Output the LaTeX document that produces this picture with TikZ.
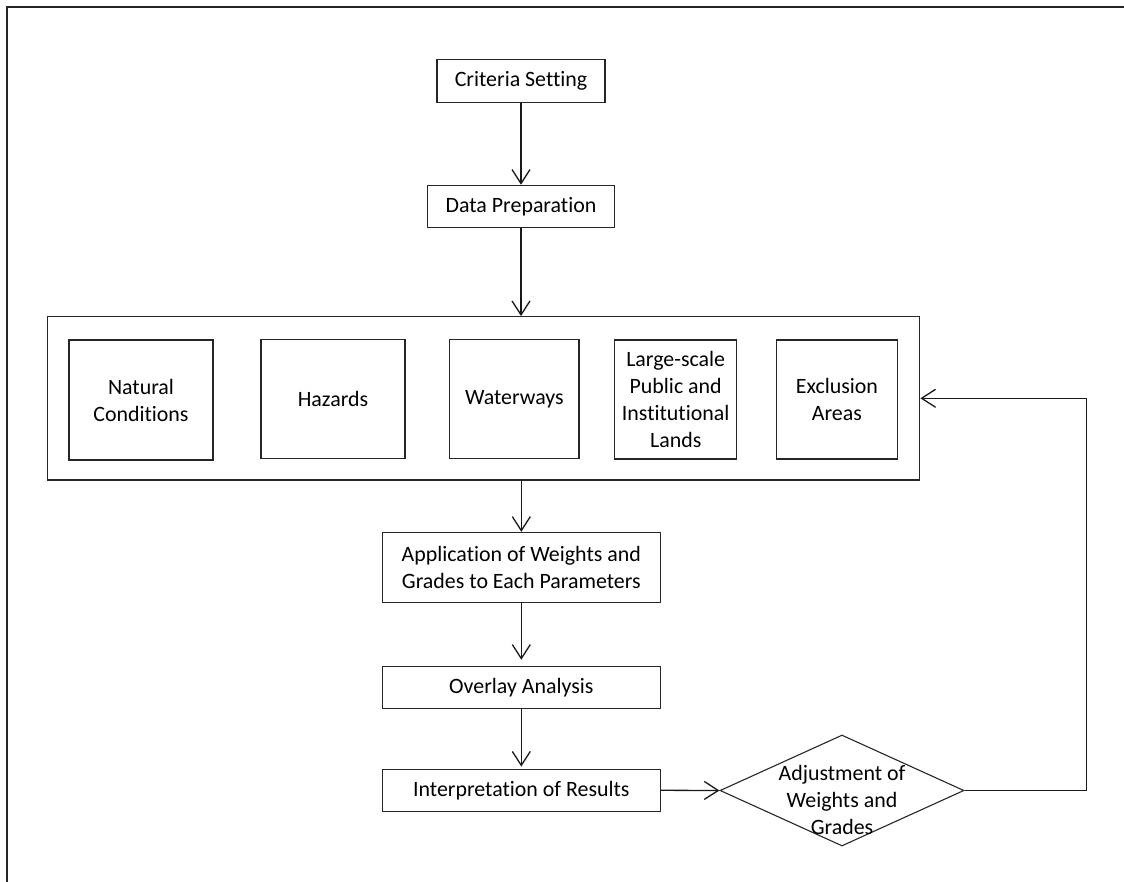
\documentclass[tikz,border=0pt]{standalone}
\usepackage{fontspec}
\setmainfont{Carlito}[Ligatures=NoCommon]
\usetikzlibrary{arrows.meta,shapes.geometric,calc}
\begin{document}
\begin{tikzpicture}[x=1pt,y=-1pt,
  box/.style={draw=black!85, line width=1.1pt, inner sep=0pt, align=center,
    font=\fontsize{21.9}{27}\selectfont, text=black},
  lbl/.style={inner sep=0pt, align=center, font=\fontsize{21.9}{27}\selectfont, text=black},
  dia/.style={draw=black!85, line width=1.1pt, diamond, inner sep=0pt,
    minimum width=244pt, minimum height=111pt},
  flow/.style={draw=black!90, line width=1.3pt,
    -{Straight Barb[length=14pt,width=18pt]}},
]
\useasboundingbox (0,0) rectangle (1124,882);
% page frame
\draw[line width=2pt, black!85] (6.5,882) -- (6.5,7.5) -- (1124,7.5);

% main column
\node[box, minimum width=168pt, minimum height=43pt] (crit) at (521,80.8) {Criteria Setting};
\node[box, minimum width=186.6pt, minimum height=42.4pt] (prep) at (521,206.5) {Data Preparation};

% parameter group
\node[box, minimum width=872.7pt, minimum height=163.3pt] (cont) at (483.5,398.3) {};
\node[box, minimum width=144pt, minimum height=120pt] (nat) at (141,400) {Natural\\Conditions};
\node[box, minimum width=144pt, minimum height=119pt] (haz) at (333,399) {Hazards};
\node[box, minimum width=129.3pt, minimum height=119pt] (wat) at (514.3,399) {Waterways};
\node[box, minimum width=122pt, minimum height=119pt] (land) at (675.7,399.5) {Large-scale\\Public and\\Institutional\\Lands};
\node[box, minimum width=121.7pt, minimum height=119pt] (excl) at (836.9,399.5) {Exclusion\\Areas};

\node[box, minimum width=278pt, minimum height=69.7pt] (app) at (521.3,567.2) {Application of Weights and\\Grades to Each Parameters};
\node[box, minimum width=278pt, minimum height=42.4pt] (ovl) at (521.3,687.5) {Overlay Analysis};
\node[box, minimum width=278pt, minimum height=42.3pt] (intp) at (521.3,790.3) {Interpretation of Results};

% decision
\node[dia] (adj) at (842,790.5) {};
\node[lbl] (adjtxt) at (842,800) {Adjustment of\\Weights and\\Grades};

% connectors
\draw[flow] (crit) -- (prep);
\draw[flow] (prep) -- (prep |- cont.north);
\draw[flow] (app.north |- cont.south) -- (app);
\draw[flow, shorten >=6pt] (app) -- (ovl);
\draw[flow, shorten >=2pt] (ovl) -- (intp);
\draw[flow] (intp.east) -- (adj.west);
\draw[flow] (adj.east) -| ($(cont.east)+(166,0)$) -- (cont.east);
\end{tikzpicture}
\end{document}
